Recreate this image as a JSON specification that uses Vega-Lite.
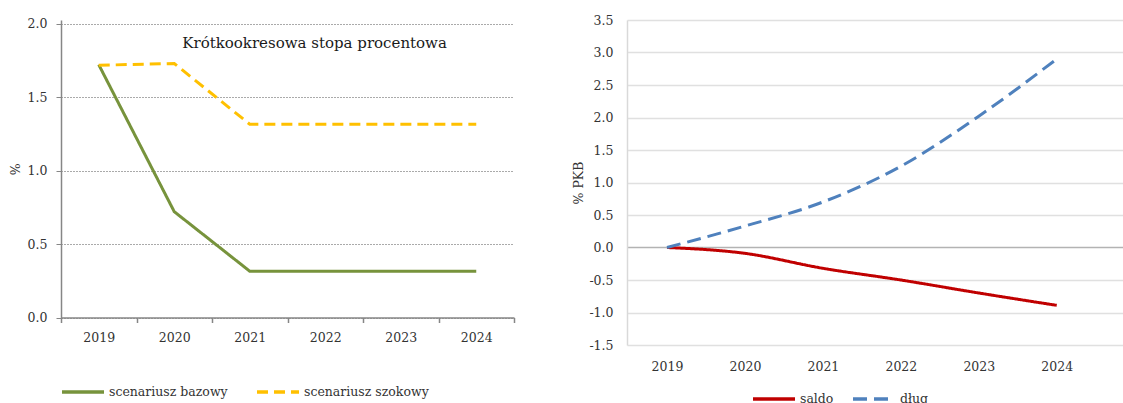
{
  "$schema": "https://vega.github.io/schema/vega-lite/v6.json",
  "padding": {"left": 9, "top": 14, "right": 0, "bottom": 0},
  "background": "white",
  "spacing": 57,
  "config": {
    "font": "DejaVu Serif",
    "view": {"stroke": null},
    "axis": {"labelFont": "DejaVu Serif", "labelFontSize": 12.5, "labelColor": "#333333", "titleFont": "DejaVu Serif", "titleFontSize": 12.5, "titleFontWeight": "normal", "titleColor": "#333333"},
    "legend": {"padding": 0}
  },
  "datasets": {
    "stopa": [
      {"rok": 2019, "scenariusz": "scenariusz bazowy", "wartosc": 1.72},
      {"rok": 2020, "scenariusz": "scenariusz bazowy", "wartosc": 0.72},
      {"rok": 2021, "scenariusz": "scenariusz bazowy", "wartosc": 0.315},
      {"rok": 2022, "scenariusz": "scenariusz bazowy", "wartosc": 0.315},
      {"rok": 2023, "scenariusz": "scenariusz bazowy", "wartosc": 0.315},
      {"rok": 2024, "scenariusz": "scenariusz bazowy", "wartosc": 0.315},
      {"rok": 2019, "scenariusz": "scenariusz szokowy", "wartosc": 1.716},
      {"rok": 2020, "scenariusz": "scenariusz szokowy", "wartosc": 1.728},
      {"rok": 2021, "scenariusz": "scenariusz szokowy", "wartosc": 1.315},
      {"rok": 2022, "scenariusz": "scenariusz szokowy", "wartosc": 1.315},
      {"rok": 2023, "scenariusz": "scenariusz szokowy", "wartosc": 1.315},
      {"rok": 2024, "scenariusz": "scenariusz szokowy", "wartosc": 1.315}
    ],
    "fiskalne": [
      {"rok": 2019, "seria": "saldo", "wartosc": 0.0},
      {"rok": 2020, "seria": "saldo", "wartosc": -0.09},
      {"rok": 2021, "seria": "saldo", "wartosc": -0.32},
      {"rok": 2022, "seria": "saldo", "wartosc": -0.5},
      {"rok": 2023, "seria": "saldo", "wartosc": -0.7},
      {"rok": 2024, "seria": "saldo", "wartosc": -0.89},
      {"rok": 2019, "seria": "dług", "wartosc": 0.0},
      {"rok": 2020, "seria": "dług", "wartosc": 0.33},
      {"rok": 2021, "seria": "dług", "wartosc": 0.7},
      {"rok": 2022, "seria": "dług", "wartosc": 1.25},
      {"rok": 2023, "seria": "dług", "wartosc": 2.02},
      {"rok": 2024, "seria": "dług", "wartosc": 2.9}
    ]
  },
  "hconcat": [
    {
      "width": 453,
      "height": 297.5,
      "layer": [
        {
          "data": {"name": "stopa"},
          "mark": {"type": "line", "strokeWidth": 3},
          "encoding": {
            "x": {"field": "rok", "type": "ordinal",
              "scale": {"type": "band", "paddingInner": 0, "paddingOuter": 0},
              "axis": {"title": null, "labelAngle": 0, "tickBand": "extent", "domainColor": "#868686", "domainWidth": 1.5, "tickColor": "#868686", "tickWidth": 1.5, "tickSize": 5, "labelPadding": 9, "grid": false}},
            "y": {"field": "wartosc", "type": "quantitative",
              "scale": {"domain": [0, 2.024], "nice": false},
              "axis": {"title": "%", "values": [0, 0.5, 1, 1.5, 2], "format": ".1f", "grid": true, "gridDash": [1, 2], "gridColor": "#555555", "domainColor": "#868686", "domainWidth": 1.5, "tickColor": "#868686", "tickSize": 5, "labelPadding": 9, "titlePadding": 5}},
            "color": {"field": "scenariusz", "type": "nominal",
              "scale": {"domain": ["scenariusz bazowy", "scenariusz szokowy"], "range": ["#77933C", "#FFC000"]},
              "legend": {"title": null, "orient": "none", "legendX": -1, "legendY": 349, "direction": "horizontal", "columnPadding": 22, "labelOffset": 3, "symbolSize": 1764, "symbolStrokeWidth": 3.5, "symbolType": "stroke", "labelFontSize": 12.5, "labelFont": "DejaVu Serif", "labelColor": "#333333"}},
            "strokeDash": {"field": "scenariusz", "type": "nominal",
              "scale": {"domain": ["scenariusz bazowy", "scenariusz szokowy"], "range": [[1, 0], [11, 6]]},
              "legend": {"title": null, "orient": "none", "legendX": -1, "legendY": 349, "direction": "horizontal", "columnPadding": 22, "labelOffset": 3, "symbolSize": 1764, "symbolStrokeWidth": 3.5, "symbolType": "stroke", "labelFontSize": 12.5, "labelFont": "DejaVu Serif", "labelColor": "#333333"}}
          }
        },
        {
          "data": {"values": [{"tytul": "Krótkookresowa stopa procentowa"}]},
          "mark": {"type": "text", "align": "left", "baseline": "alphabetic", "dx": 8, "fontSize": 15, "color": "#1a1a1a", "font": "DejaVu Serif"},
          "encoding": {
            "x": {"datum": 2020, "type": "ordinal"},
            "y": {"datum": 1.835, "type": "quantitative"},
            "text": {"field": "tytul"}
          }
        }
      ]
    },
    {
      "width": 496,
      "height": 325,
      "data": {"name": "fiskalne"},
      "mark": {"type": "line", "strokeWidth": 3, "interpolate": "monotone"},
      "encoding": {
        "x": {"field": "rok", "type": "quantitative",
          "scale": {"domain": [2018.487, 2024.85], "nice": false, "zero": false},
          "axis": {"title": null, "values": [2019, 2020, 2021, 2022, 2023, 2024], "format": "d", "grid": false, "domain": false, "ticks": false, "labelPadding": 15}},
        "y": {"field": "wartosc", "type": "quantitative",
          "scale": {"domain": [-1.5, 3.5], "nice": false},
          "axis": {"title": "% PKB", "values": [-1.5, -1, -0.5, 0, 0.5, 1, 1.5, 2, 2.5, 3, 3.5], "labelExpr": "replace(format(datum.value, '.1f'), '−', '-')", "ticks": false, "labelPadding": 14, "domainColor": "#d9d9d9", "domainWidth": 1.5, "gridColor": {"condition": {"test": "datum.value === 0", "value": "#b3b3b3"}, "value": "#e0e0e0"}, "gridWidth": 1.5, "titlePadding": 3}},
        "color": {"field": "seria", "type": "nominal",
          "scale": {"domain": ["saldo", "dług"], "range": ["#C00000", "#4F81BD"]},
          "legend": {"title": null, "orient": "none", "legendX": 124, "legendY": 356, "direction": "horizontal", "columnPadding": 12, "labelOffset": 3, "symbolSize": 1764, "symbolStrokeWidth": 3.5, "symbolType": "stroke", "labelFontSize": 12.5, "labelFont": "DejaVu Serif", "labelColor": "#333333"}},
        "strokeDash": {"field": "seria", "type": "nominal",
          "scale": {"domain": ["saldo", "dług"], "range": [[1, 0], [14, 7]]},
          "legend": {"title": null, "orient": "none", "legendX": 124, "legendY": 356, "direction": "horizontal", "columnPadding": 12, "labelOffset": 3, "symbolSize": 1764, "symbolStrokeWidth": 3.5, "symbolType": "stroke", "labelFontSize": 12.5, "labelFont": "DejaVu Serif", "labelColor": "#333333"}}
      }
    }
  ],
  "resolve": {
    "scale": {"x": "independent", "y": "independent", "color": "independent", "strokeDash": "independent"},
    "legend": {"color": "independent", "strokeDash": "independent"}
  }
}
